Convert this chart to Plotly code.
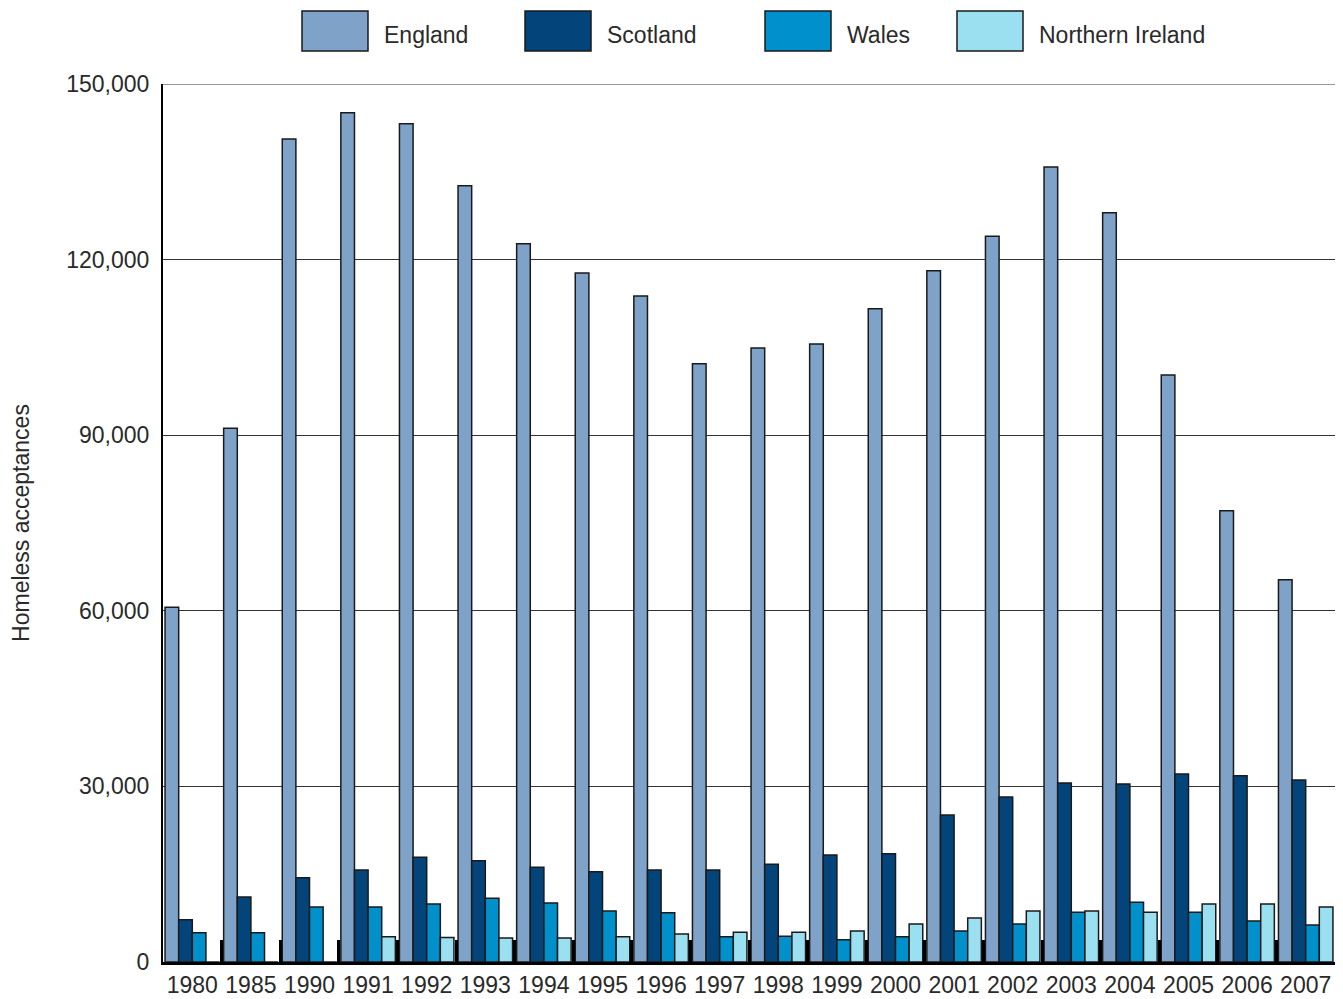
import plotly.graph_objects as go

years = ["1980", "1985", "1990", "1991", "1992", "1993", "1994", "1995", "1996", "1997",
         "1998", "1999", "2000", "2001", "2002", "2003", "2004", "2005", "2006", "2007"]
england = [60600, 91200, 140600, 145100, 143200, 132600, 122700, 117700, 113800, 102200,
           104900, 105600, 111600, 118100, 124000, 135800, 128000, 100300, 77100, 65300]
scotland = [7200, 11100, 14400, 15700, 17900, 17300, 16200, 15400, 15700, 15700,
            16700, 18300, 18500, 25100, 28200, 30600, 30400, 32100, 31800, 31100]
wales = [5000, 5000, 9400, 9400, 9900, 10900, 10100, 8700, 8400, 4300,
         4400, 3800, 4300, 5300, 6500, 8500, 10200, 8500, 7000, 6300]
n_ireland = [0, 0, 0, 4300, 4200, 4100, 4100, 4300, 4800, 5100,
             5100, 5300, 6500, 7500, 8700, 8700, 8500, 9900, 9900, 9400]

series_names = ["England", "Scotland", "Wales", "Northern Ireland"]
series_vals = [england, scotland, wales, n_ireland]
colors = ["#7FA3C8", "#03457A", "#0091CC", "#9AE0F0"]

FONT = "Liberation Sans"
TXT = "#2a2a2a"
FS = 23

fig = go.Figure()
for name, vals, col in zip(series_names, series_vals, colors):
    fig.add_trace(go.Bar(
        x=years, y=vals, name=name,
        marker=dict(color=col, line=dict(color="#1a1a1a", width=1.5)),
        showlegend=False,
    ))

# page has an 8px body margin; size the figure to fill the rest of the window
OFF = 8
W, H = 1343 - OFF, 999 - OFF
ml, mr, mt, mb = 163 - OFF, 8, 84 - OFF, 37
pw = W - ml - mr
ph = H - mt - mb

# manual legend (big swatches like the reference); page-pixel positions
legend_x = [302, 525, 765, 957]
shapes = []
annotations = []
for name, col, lx in zip(series_names, colors, legend_x):
    fx = lx - OFF
    shapes.append(dict(type="rect", xref="paper", yref="paper",
                       x0=(fx - ml) / pw, x1=(fx + 66 - ml) / pw,
                       y0=1 + (mt - (51 - OFF)) / ph, y1=1 + (mt - (11 - OFF)) / ph,
                       fillcolor=col, line=dict(color="#1a1a1a", width=1.5)))
    annotations.append(dict(xref="paper", yref="paper", x=(fx + 80 - ml) / pw,
                            y=1 + (mt - (35 - OFF)) / ph, text=name, showarrow=False,
                            xanchor="left", yanchor="middle",
                            font=dict(family=FONT, size=FS, color=TXT)))

# top gridline at 150,000
shapes.append(dict(type="line", xref="paper", yref="y", x0=0, x1=1, y0=150000, y1=150000,
                   line=dict(color="#333333", width=1)))

fig.update_layout(
    width=W, height=H,
    margin=dict(l=ml, r=mr, t=mt, b=mb, autoexpand=False),
    plot_bgcolor="white", paper_bgcolor="white",
    barmode="group", bargap=0.07, bargroupgap=0,
    font=dict(family=FONT, size=FS, color=TXT),
    shapes=shapes, annotations=annotations,
    xaxis=dict(
        type="category", showline=True, linecolor="#000000", linewidth=3,
        ticks="inside", tickson="boundaries", ticklen=22, tickwidth=3, tickcolor="#000000",
        showgrid=False, tickangle=0, automargin=False,
        tickfont=dict(family=FONT, size=FS, color=TXT),
    ),
    yaxis=dict(
        range=[0, 150000], tickvals=[0, 30000, 60000, 90000, 120000, 150000],
        tickformat=",", showline=True, linecolor="#000000", linewidth=2,
        showgrid=True, gridcolor="#333333", gridwidth=1, zeroline=False,
        ticks="", ticklabelstandoff=7, automargin=False,
        tickfont=dict(family=FONT, size=FS, color=TXT),
        title=dict(text="Homeless acceptances", font=dict(family=FONT, size=FS, color=TXT), standoff=31),
    ),
)

fig.write_html("out.html")
